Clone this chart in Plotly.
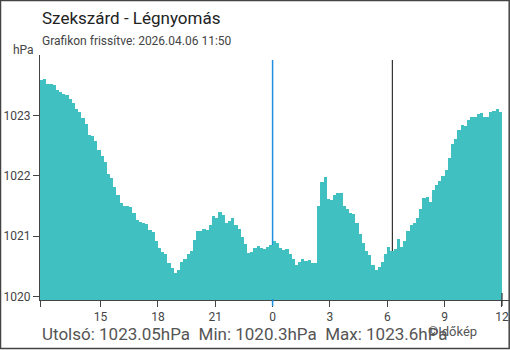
import pandas as pd
import plotly.graph_objects as go

# 10-minute pressure readings (hPa), 2026-04-05 11:50 -> 2026-04-06 11:50
pressure = [
    1023.58, 1023.60, 1023.52, 1023.52, 1023.50, 1023.42, 1023.38, 1023.35, 1023.33, 1023.27,
    1023.20, 1023.10, 1023.05, 1022.95, 1022.85, 1022.68, 1022.65, 1022.58, 1022.42, 1022.33,
    1022.22, 1022.02, 1021.97, 1021.82, 1021.68, 1021.55, 1021.50, 1021.49, 1021.48, 1021.38,
    1021.27, 1021.23, 1021.21, 1021.20, 1021.10, 1021.07, 1020.92, 1020.80, 1020.73, 1020.70,
    1020.55, 1020.47, 1020.39, 1020.43, 1020.57, 1020.62, 1020.70, 1020.75, 1020.94, 1021.08,
    1021.08, 1021.12, 1021.10, 1021.18, 1021.33, 1021.30, 1021.40, 1021.35, 1021.22, 1021.25,
    1021.30, 1021.18, 1021.11, 1020.99, 1020.86, 1020.72, 1020.74, 1020.80, 1020.84, 1020.80,
    1020.78, 1020.82, 1020.85, 1020.92, 1020.88, 1020.80, 1020.77, 1020.78, 1020.70, 1020.62,
    1020.52, 1020.57, 1020.62, 1020.58, 1020.60, 1020.56, 1020.55, 1021.50, 1021.90, 1021.98,
    1021.62, 1021.60, 1021.68, 1021.72, 1021.72, 1021.50, 1021.45, 1021.38, 1021.36, 1021.22,
    1021.03, 1020.88, 1020.76, 1020.68, 1020.52, 1020.44, 1020.48, 1020.57, 1020.70, 1020.82,
    1020.76, 1020.78, 1020.95, 1020.82, 1020.92, 1021.08, 1021.18, 1021.22, 1021.30, 1021.45,
    1021.63, 1021.65, 1021.56, 1021.76, 1021.85, 1021.92, 1022.00, 1022.10, 1022.30, 1022.52,
    1022.60, 1022.76, 1022.84, 1022.83, 1022.92, 1022.98, 1022.97, 1023.02, 1023.04, 1022.98,
    1022.98, 1023.05, 1023.08, 1023.10, 1023.05,
]
times = pd.date_range("2026-04-05 11:50", periods=len(pressure), freq="10min")

tick_vals = ["2026-04-05 11:50", "2026-04-05 15:00", "2026-04-05 18:00", "2026-04-05 21:00",
             "2026-04-06 00:00", "2026-04-06 03:00", "2026-04-06 06:00", "2026-04-06 09:00",
             "2026-04-06 12:00"]
tick_text = ["", "15", "18", "21", "0", "3", "6", "9", "12"]
y_ticks = [1020, 1021, 1022, 1023]

midnight = "2026-04-06 00:00"
sunrise = "2026-04-06 06:16"
now_mark = "2026-04-06 12:00"

FONT = "Roboto"
W, H = 510, 350
L, R, T, B = 40, 1, 55, 50
pw, ph = W - L - R, H - T - B


def px(x):
    return (x - L) / pw


def py(y):
    return (H - B - y) / ph


fig = go.Figure()
fig.add_trace(go.Bar(
    x=times, y=pressure, width=600000, offset=0,
    marker=dict(color="#41C0C1", line=dict(width=0)),
    hoverinfo="skip",
))

fig.update_layout(
    width=W, height=H,
    margin=dict(l=L, r=R, t=T, b=B),
    paper_bgcolor="white", plot_bgcolor="white",
    showlegend=False, bargap=0,
    font=dict(family=FONT, color="#444", size=12),
    xaxis=dict(
        range=["2026-04-05 11:50", "2026-04-06 12:22"],
        tickvals=tick_vals, ticktext=tick_text,
        showgrid=False, zeroline=False,
        showline=True, linecolor="#444", linewidth=1,
        ticks="outside", ticklen=6, tickcolor="#444",
        tickfont=dict(size=12, color="#444"),
    ),
    yaxis=dict(
        range=[1019.94, 1024.0],
        tickvals=y_ticks,
        showgrid=False, zeroline=False,
        showline=True, linecolor="#444", linewidth=1,
        ticks="outside", ticklen=6, tickcolor="#444",
        tickfont=dict(size=12, color="#444"),
    ),
)

# vertical markers
fig.add_shape(type="line", xref="x", yref="paper", x0=midnight, x1=midnight,
              y0=py(302), y1=py(60), line=dict(color="#1E90E0", width=1.5), layer="below")
fig.add_shape(type="line", xref="x", yref="paper", x0=midnight, x1=midnight,
              y0=py(306), y1=py(299), line=dict(color="#1E90E0", width=1.5), layer="above")
fig.add_shape(type="line", xref="x", yref="paper", x0=sunrise, x1=sunrise,
              y0=0, y1=py(60), line=dict(color="#333", width=1.2), layer="below")
fig.add_shape(type="line", xref="x", yref="paper", x0=now_mark, x1=now_mark,
              y0=py(306), y1=py(293), line=dict(color="#333", width=1.2), layer="above")

# frame
fig.add_shape(type="rect", xref="paper", yref="paper",
              x0=px(0.5), x1=px(509.2), y0=py(348.5), y1=py(0.5),
              line=dict(color="#444", width=1.5), layer="above")

ann = [
    dict(text="Szekszárd - Légnyomás", x=px(40), y=py(18), size=17, color="#222"),
    dict(text="Grafikon frissítve: 2026.04.06 11:50", x=px(40), y=py(41), size=12, color="#444"),
    dict(text="hPa", x=px(11), y=py(50), size=12, color="#444"),
    dict(text="Utolsó: 1023.05hPa  Min: 1020.3hPa  Max: 1023.6hPa", x=px(40), y=py(334), size=17, color="#555"),
    dict(text="©Időkép", x=px(426), y=py(331), size=13, color="#555"),
]
for a in ann:
    fig.add_annotation(text=a["text"], xref="paper", yref="paper", x=a["x"], y=a["y"],
                       xanchor="left", yanchor="middle", showarrow=False,
                       font=dict(family=FONT, size=a["size"], color=a["color"]))

fig.write_html("out.html")
